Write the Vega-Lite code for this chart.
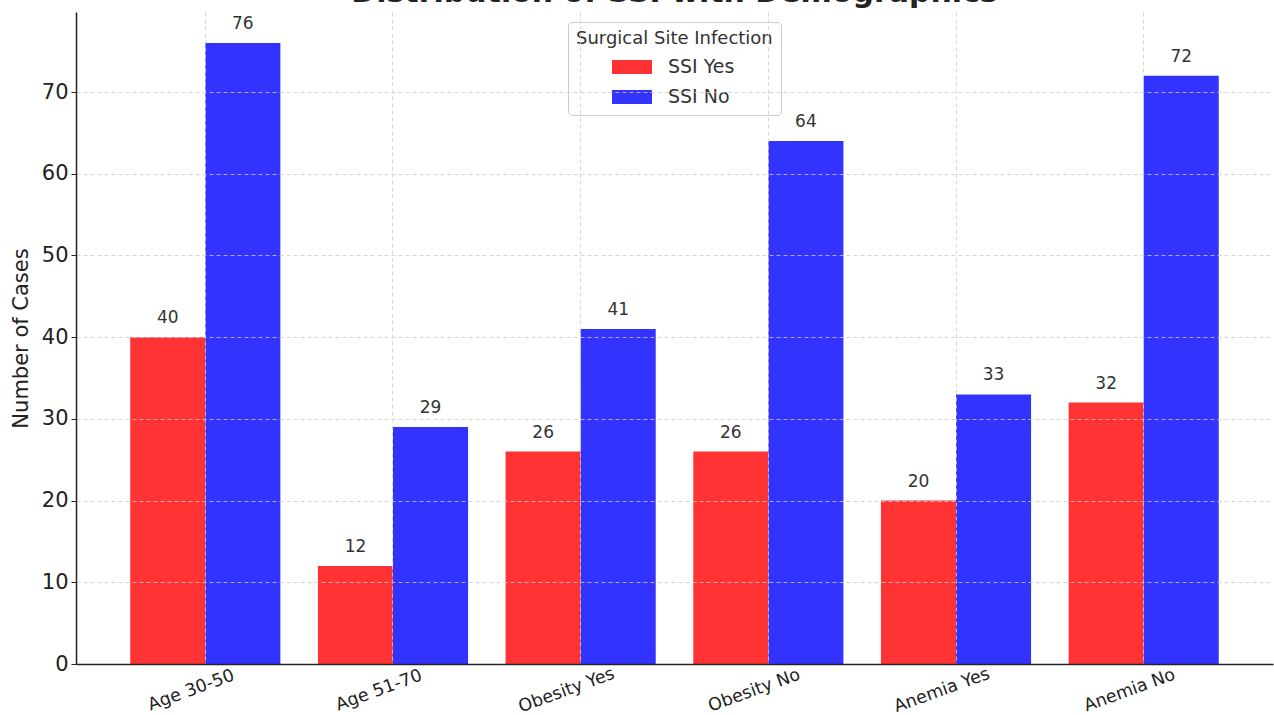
{
  "$schema": "https://vega.github.io/schema/vega-lite/v6.json",
  "autosize": {"type": "none"},
  "width": 1197,
  "height": 652,
  "padding": {"left": 76, "top": 12, "right": 1, "bottom": 51},
  "background": "white",
  "title": {
    "text": "Distribution of SSI with Demographics",
    "fontSize": 30,
    "fontWeight": "bold",
    "font": "DejaVu Sans",
    "color": "#222222",
    "anchor": "middle",
    "baseline": "alphabetic",
    "offset": 0,
    "dy": 20
  },
  "config": {
    "font": "DejaVu Sans",
    "view": {"stroke": null}
  },
  "data": {
    "values": [
      {"group": "Age 30-50", "ssi": "SSI Yes", "cases": 40},
      {"group": "Age 30-50", "ssi": "SSI No", "cases": 76},
      {"group": "Age 51-70", "ssi": "SSI Yes", "cases": 12},
      {"group": "Age 51-70", "ssi": "SSI No", "cases": 29},
      {"group": "Obesity Yes", "ssi": "SSI Yes", "cases": 26},
      {"group": "Obesity Yes", "ssi": "SSI No", "cases": 41},
      {"group": "Obesity No", "ssi": "SSI Yes", "cases": 26},
      {"group": "Obesity No", "ssi": "SSI No", "cases": 64},
      {"group": "Anemia Yes", "ssi": "SSI Yes", "cases": 20},
      {"group": "Anemia Yes", "ssi": "SSI No", "cases": 33},
      {"group": "Anemia No", "ssi": "SSI Yes", "cases": 32},
      {"group": "Anemia No", "ssi": "SSI No", "cases": 72}
    ]
  },
  "encoding": {
    "x": {
      "field": "group",
      "type": "nominal",
      "sort": null,
      "scale": {"paddingInner": 0.2, "paddingOuter": 0.289},
      "axis": {
        "title": null,
        "labelAngle": -20,
        "labelAlign": "center",
        "labelBaseline": "middle",
        "labelFontSize": 17.5,
        "labelColor": "#222222",
        "labelPadding": 26,
        "labelOffset": -14,
        "bandPosition": 0.5,
        "ticks": false,
        "domainColor": "#222222",
        "domainWidth": 1.5,
        "grid": true,
        "gridDash": [4, 3],
        "gridColor": "#cccccc",
        "gridWidth": 0.8,
        "zindex": 1
      }
    },
    "xOffset": {
      "field": "ssi",
      "type": "nominal",
      "sort": ["SSI Yes", "SSI No"],
      "scale": {"paddingInner": 0, "paddingOuter": 0}
    },
    "y": {
      "field": "cases",
      "type": "quantitative",
      "scale": {"domain": [0, 79.8], "nice": false},
      "axis": {
        "title": "Number of Cases",
        "titleFontSize": 21,
        "titleFontWeight": "normal",
        "titleColor": "#222222",
        "titlePadding": 10,
        "values": [0, 10, 20, 30, 40, 50, 60, 70],
        "labelFontSize": 21,
        "labelColor": "#222222",
        "labelPadding": 3,
        "tickSize": 5,
        "tickColor": "#222222",
        "domainColor": "#222222",
        "domainWidth": 1.5,
        "grid": true,
        "gridDash": [4, 3],
        "gridColor": "#cccccc",
        "gridWidth": 0.8,
        "zindex": 1
      }
    }
  },
  "layer": [
    {
      "mark": {"type": "bar"},
      "encoding": {
        "color": {
          "field": "ssi",
          "type": "nominal",
          "sort": ["SSI Yes", "SSI No"],
          "scale": {"domain": ["SSI Yes", "SSI No"], "range": ["#ff3333", "#3333ff"]},
          "legend": {
            "title": "Surgical Site Infection",
            "orient": "none",
            "legendX": 492,
            "legendY": 10,
            "titleFontSize": 18,
            "titleFontWeight": "normal",
            "titleColor": "#333333",
            "titlePadding": -1,
            "titleLimit": 400,
            "labelFontSize": 19,
            "labelColor": "#333333",
            "symbolType": "M-1,-0.35H1V0.35H-1Z",
            "symbolSize": 1600,
            "symbolStrokeWidth": 0,
            "symbolOpacity": 1,
            "symbolOffset": 36,
            "labelOffset": 16,
            "rowPadding": -1,
            "padding": 8,
            "strokeColor": "#cccccc",
            "fillColor": "white",
            "cornerRadius": 4
          }
        }
      }
    },
    {
      "mark": {"type": "text", "baseline": "bottom", "dy": -10, "fontSize": 17, "color": "#333333"},
      "encoding": {
        "text": {"field": "cases", "type": "quantitative"}
      }
    }
  ]
}
